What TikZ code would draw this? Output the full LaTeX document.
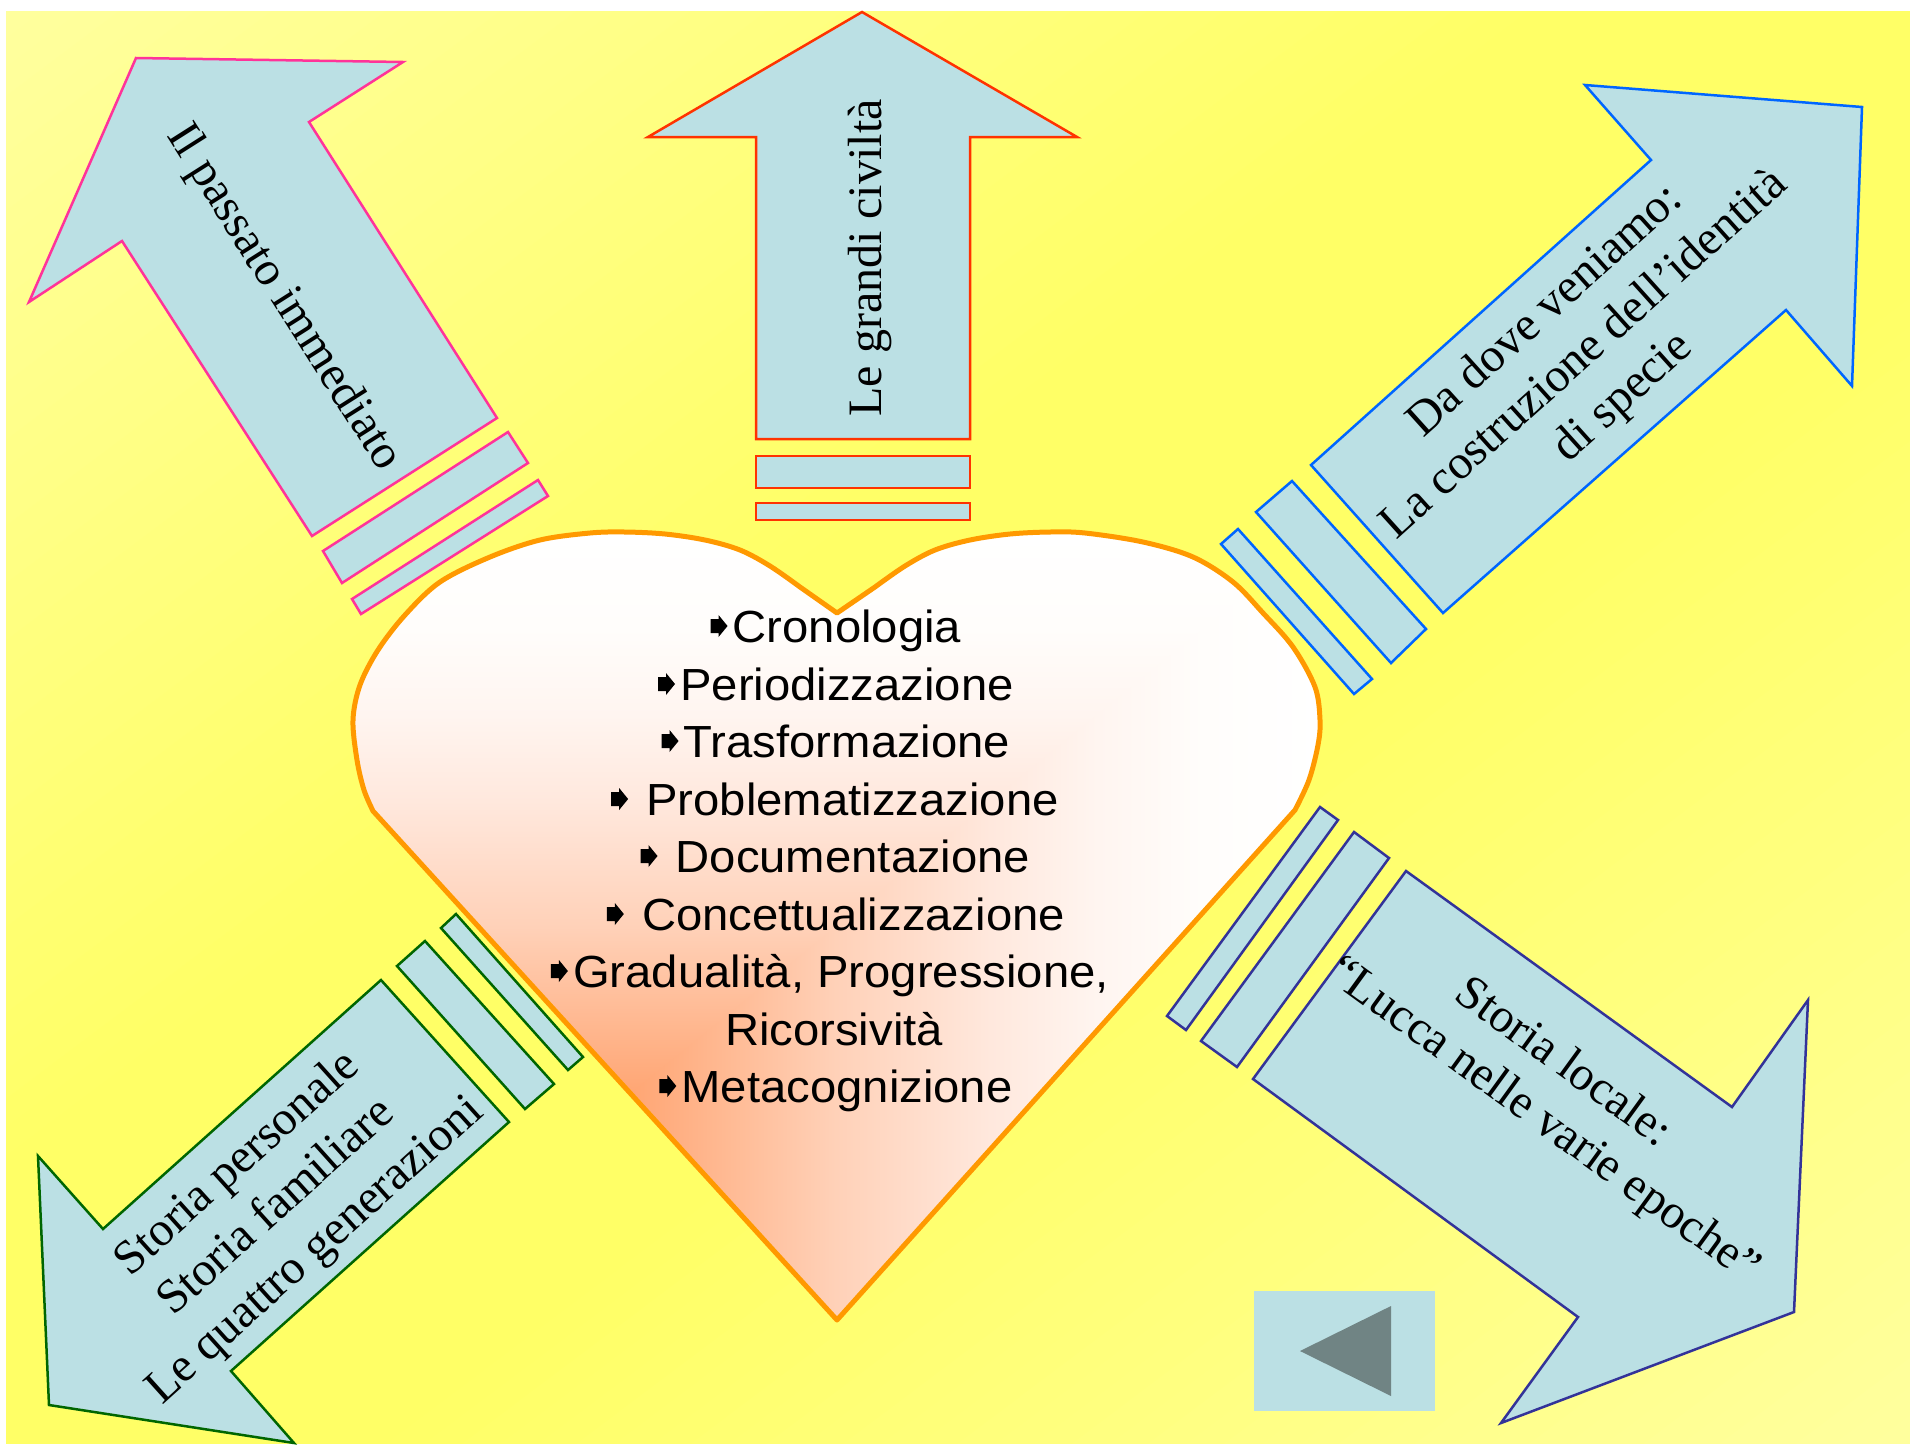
\documentclass[tikz,border=0pt]{standalone}
\usepackage{fontspec}
\setmainfont{Liberation Serif}
\newfontfamily\sansf[FakeStretch=1.05]{Liberation Sans}
\usetikzlibrary{calc}
\definecolor{arrowfill}{RGB}{187,224,228}
\definecolor{pinkline}{RGB}{255,51,153}
\definecolor{redline}{RGB}{255,51,0}
\definecolor{blueline}{RGB}{0,102,255}
\definecolor{greenline}{RGB}{0,102,0}
\definecolor{navyline}{RGB}{51,51,153}
\definecolor{heartline}{RGB}{255,153,0}
\definecolor{btngray}{RGB}{112,132,132}
\definecolor{bglight}{RGB}{255,255,158}
\definecolor{bgmid}{RGB}{255,255,102}
\definecolor{hA}{RGB}{255,140,90}
\definecolor{hB}{RGB}{255,166,116}
\definecolor{hC}{RGB}{255,176,132}
\definecolor{hD}{RGB}{255,209,184}
\definecolor{hE}{RGB}{255,232,221}
\definecolor{hF}{RGB}{255,245,240}
\definecolor{hG}{RGB}{255,253,251}
\pgfdeclarehorizontalshading{hearth}{100bp}{color(0bp)=(hA); color(25bp)=(hA); color(39.5bp)=(hB); color(42bp)=(hC); color(50bp)=(hD); color(58bp)=(hE); color(63.5bp)=(hF); color(69bp)=(hG); color(75bp)=(white); color(100bp)=(white)}
\pgfdeclareverticalshading{heartv}{100bp}{color(0bp)=(hA); color(25bp)=(hA); color(39.5bp)=(hB); color(42bp)=(hC); color(50bp)=(hD); color(58bp)=(hE); color(63.5bp)=(hF); color(69bp)=(hG); color(75bp)=(white); color(100bp)=(white)}
\def\heartpath{(837,613) -- plot[smooth, tension=0.55] coordinates {(800,587) (770,566) (740,550) (705,540) (665,534) (625,532) (590,533) (540,540) (490,557) (440,582) (405,615) (378,650) (360,685) (353,720) (357,760) (364,790) (373,811)} -- (837,1320) -- plot[smooth, tension=0.55] coordinates {(1295,810) (1309,780) (1318,745) (1320,720) (1315,687) (1293,647) (1263,613) (1233,582) (1193,557) (1143,542) (1085,533) (1050,532) (1010,534) (970,540) (935,550) (905,566) (875,587)} -- cycle}
\newcommand\bl{\hspace*{22pt}}
\newcommand\bls{\hspace*{35pt}}
\newcommand\bulletat[1]{\fill ($(#1.base west)+(0,-16)$) -- ++(0,-7) -- ++(8,0) -- ++(0,-4) -- ++(9,11) -- ++(-9,11) -- ++(0,-4) -- ++(-8,0) -- cycle;}
\tikzset{
  arrowshape/.style={fill=arrowfill, line width=2.5pt, line join=miter},
  seriflabel/.style={font=\fontsize{48}{58}\selectfont, align=center, inner sep=0pt},
  item/.style={font=\sansf\fontsize{45}{54}\selectfont, inner sep=0pt, anchor=base},
}
\begin{document}
\begin{tikzpicture}[x=1pt,y=-1pt]
\useasboundingbox (0,0) rectangle (1910,1446);
\fill[white] (0,0) rectangle (1910,1446);
% background gradient
\begin{scope}
\clip (6,11) rectangle (1910,1443);
\begin{scope}[rotate around={-53.06:(958,727)}]
\foreach \i in {0,...,99} {
  \pgfmathsetmacro\tt{(\i+0.5)/100}
  \pgfmathsetmacro\mm{(\tt<0.4) ? (1-\tt/0.4)*100 : ((\tt>0.6) ? (\tt-0.6)/0.4*100 : 0)}
  \fill[bglight!\mm!bgmid] ({958-1145+\i*22.9},-600) rectangle ({958-1145+(\i+1)*22.9+1},2100);
}
\end{scope}
\end{scope}
% heart
\begin{scope}
\clip \heartpath;
\shade[shading=heartv] (352,534) rectangle (1320,1320);
\begin{scope}
\clip (352,1320) -- (1320,534) -- (1320,1320) -- cycle;
\shade[shading=hearth] (352,534) rectangle (1320,1320);
\end{scope}
\end{scope}
\draw[heartline, line width=5pt, line join=round] \heartpath;
% pink arrow
\draw[arrowshape, draw=pinkline] (136,58) -- (403,62) -- (309,122) -- (497,418) -- (312,536) -- (122,241) -- (29,302) -- cycle;
\draw[arrowshape, draw=pinkline] (323,551) -- (508,432) -- (528,463) -- (342,583) -- cycle;
\draw[arrowshape, draw=pinkline] (352,599) -- (538,480) -- (548,496) -- (361,614) -- cycle;
% red arrow
\draw[arrowshape, draw=redline] (862,12) -- (1077,137) -- (970,137) -- (970,439) -- (756,439) -- (756,137) -- (648,137) -- cycle;
\draw[arrowshape, draw=redline] (756,456) rectangle (970,488);
\draw[arrowshape, draw=redline] (756,503) rectangle (970,520);
% blue arrow
\draw[arrowshape, draw=blueline] (1585,85) -- (1862,107) -- (1852,386) -- (1786,310) -- (1443,613) -- (1311,465) -- (1651,160) -- cycle;
\draw[arrowshape, draw=blueline] (1256,512) -- (1292,481) -- (1426,629) -- (1391,663) -- cycle;
\draw[arrowshape, draw=blueline] (1221,544) -- (1238,529) -- (1372,679) -- (1354,694) -- cycle;
% green arrow
\draw[arrowshape, draw=greenline] (381,980) -- (509,1122) -- (231,1371) -- (294,1443) -- (49,1405) -- (38,1156) -- (103,1229) -- cycle;
\draw[arrowshape, draw=greenline] (397,966) -- (425,941) -- (554,1084) -- (525,1109) -- cycle;
\draw[arrowshape, draw=greenline] (441,928) -- (456,914) -- (583,1057) -- (568,1070) -- cycle;
% navy arrow
\draw[arrowshape, draw=navyline] (1406,871) -- (1732,1107) -- (1808,1000) -- (1794,1312) -- (1501,1423) -- (1578,1317) -- (1253,1079) -- cycle;
\draw[arrowshape, draw=navyline] (1201,1041) -- (1354,832) -- (1389,858) -- (1237,1067) -- cycle;
\draw[arrowshape, draw=navyline] (1167,1016) -- (1320,807) -- (1338,820) -- (1186,1030) -- cycle;
% back button
\fill[arrowfill] (1254,1291) rectangle (1435,1411);
\fill[btngray] (1300,1351) -- (1391,1306) -- (1391,1396) -- cycle;
% arrow labels
\node[seriflabel, rotate=-57.6] (t1) at (283,298) {Il passato immediato};
\node[seriflabel, rotate=90, anchor=base] (t2) at (881,258) {Le grandi civiltà};
\node[seriflabel, rotate=42] (t3) at (1585,355) {Da dove veniamo:\\La costruzione dell’identità\\di specie};
\node[seriflabel, rotate=42] (t4) at (277,1208) {Storia personale\\Storia familiare\\Le quattro generazioni};
\node[seriflabel, rotate=-36] (t5) at (1560,1098) {Storia locale:\hspace*{36pt}\\“Lucca nelle varie epoche”};
% heart items
\node[item] (l1) at (836,642) {\bl Cronologia};
\node[item] (l2) at (836,700) {\bl Periodizzazione};
\node[item] (l3) at (836,757) {\bl Trasformazione};
\node[item] (l4) at (835,815) {\bls Problematizzazione};
\node[item] (l5) at (835.5,872) {\bls Documentazione};
\node[item] (l6) at (836,930) {\bls Concettualizzazione};
\node[item] (l7) at (830,987) {\bl Gradualità, Progressione,};
\node[item] (l8) at (834,1045) {Ricorsività};
\node[item] (l9) at (836,1102) {\bl Metacognizione};
\bulletat{l1}
\bulletat{l2}
\bulletat{l3}
\bulletat{l4}
\bulletat{l5}
\bulletat{l6}
\bulletat{l7}
\bulletat{l9}
\end{tikzpicture}
\end{document}
